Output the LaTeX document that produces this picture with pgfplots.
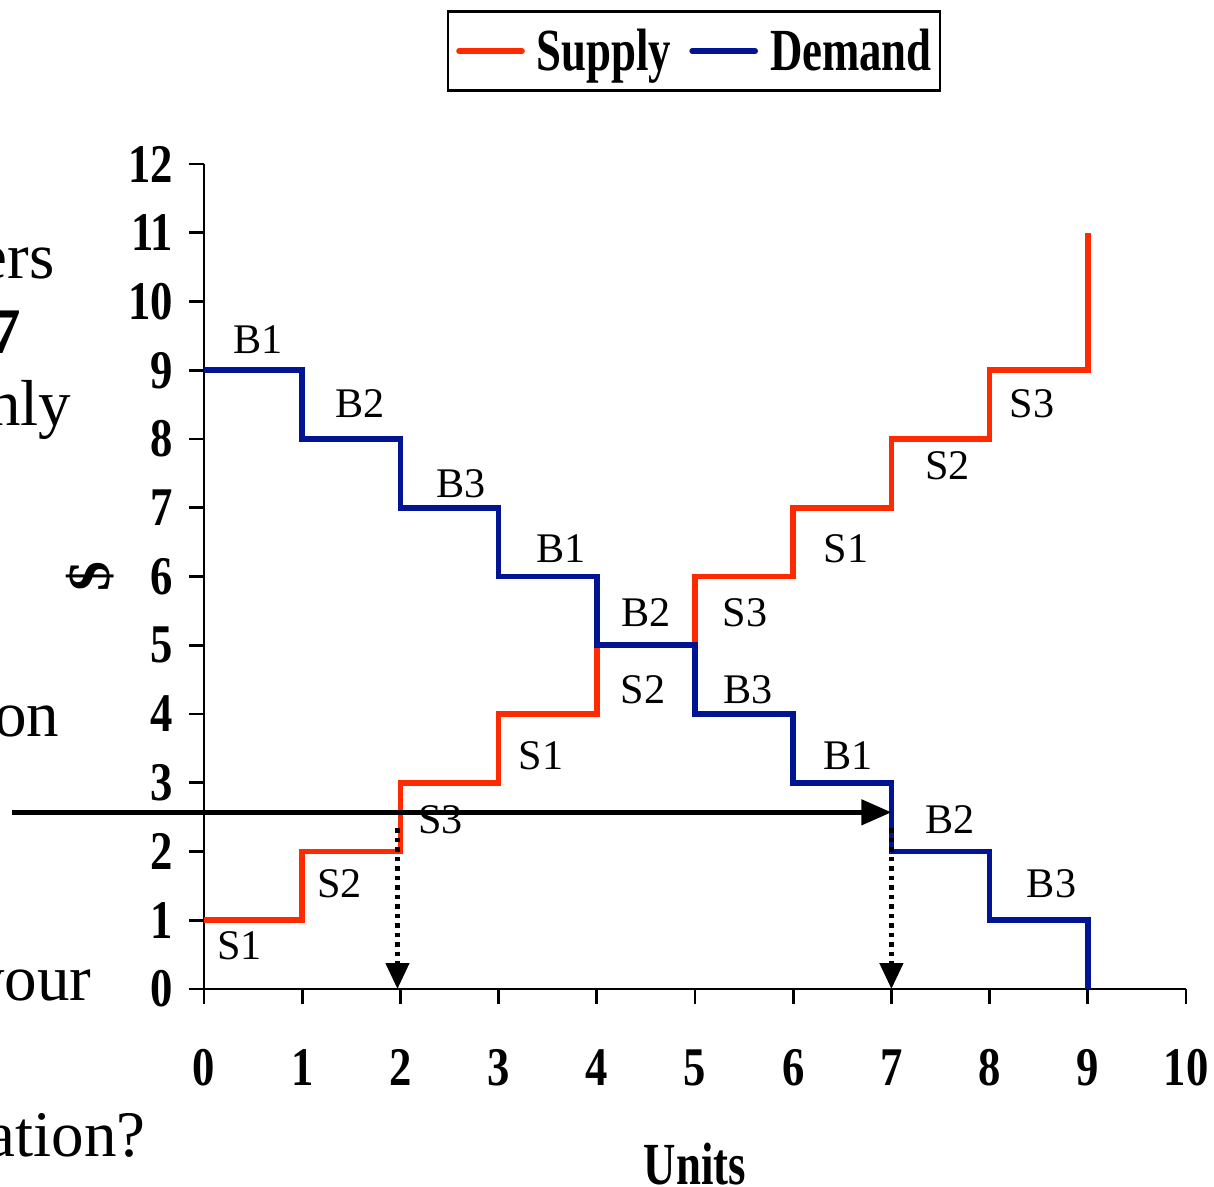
\documentclass[border=0pt]{standalone}
\usepackage{fontspec}
\setmainfont{Liberation Serif}
\usepackage{pgfplots}
\pgfplotsset{compat=1.18}
\usetikzlibrary{arrows.meta}

\definecolor{supplyred}{RGB}{255,42,0}
\definecolor{demandblue}{RGB}{0,20,148}
\newcommand{\narrow}[1]{\scalebox{0.82}[1]{#1}}
\newcommand{\cond}[1]{\scalebox{0.75}[1]{#1}}

\begin{document}
\begin{tikzpicture}
\begin{axis}[
    name=ax,
    scale only axis,
    width=9.82cm, height=8.25cm,
    xmin=0, xmax=10, ymin=0, ymax=12,
    axis lines=left,
    axis line style={-, line width=0.8pt},
    tick style={line width=0.8pt, black},
    tick align=outside,
    major tick length=0.15cm,
    xtick={0,...,10}, ytick={0,...,12},
    /pgf/number format/assume math mode=true,
    ticklabel style={font=\fontsize{15.5}{15.5}\selectfont\bfseries},
    xticklabel={\narrow{\pgfmathprintnumber{\tick}}},
    yticklabel={\narrow{\pgfmathprintnumber{\tick}}},
    xticklabel style={anchor=north, inner sep=0pt, yshift=-0.45cm},
    yticklabel style={anchor=east, inner sep=0pt, xshift=-0.15cm},
    xlabel={\cond{Units}},
    xlabel style={at={(axis description cs:0.5,0)}, anchor=base, yshift=-1.95cm,
                  font=\fontsize{17}{17}\selectfont\bfseries},
    ylabel={\$},
    ylabel style={at={(axis description cs:-0.116,0.5)}, anchor=center,
                  font=\fontsize{17}{17}\selectfont\bfseries},
    legend columns=2,
    legend style={at={(axis description cs:0.499,1.137)}, anchor=center,
                  draw=black, line width=0.6pt,
                  font=\fontsize{17}{17}\selectfont\bfseries,
                  inner xsep=0.08cm, inner ysep=0.12cm,
                  nodes={inner sep=0pt, text height=0.47cm, text depth=0.08cm},
                  /tikz/every even column/.append style={column sep=0.18cm}},
    legend image code/.code={
        \draw[#1, line cap=round] (0cm,0cm) -- (0.63cm,0cm);
        \path (0.75cm,0cm);
    },
    clip=false,
]

\addplot[const plot, supplyred, line width=1.6pt] coordinates {
    (0,1) (1,2) (2,3) (3,4) (4,5) (5,6) (6,7) (7,8) (8,9) (9,9) (9,11)
};
\addlegendentry{\cond{Supply}}

\addplot[const plot, demandblue, line width=1.6pt] coordinates {
    (0,9) (1,8) (2,7) (3,6) (4,5) (5,4) (6,3) (7,2) (8,1) (9,1) (9,0)
};
\addlegendentry{\cond{Demand}}

% step labels
\begin{scope}[every node/.style={font=\fontsize{12}{12}\selectfont, inner sep=0pt}]
\node at (axis cs:0.55,9.44) {B1};
\node at (axis cs:1.59,8.51) {B2};
\node at (axis cs:2.62,7.35) {B3};
\node at (axis cs:3.64,6.41) {B1};
\node at (axis cs:4.50,5.48) {B2};
\node at (axis cs:5.54,4.36) {B3};
\node at (axis cs:6.56,3.39) {B1};
\node at (axis cs:7.60,2.46) {B2};
\node at (axis cs:8.63,1.53) {B3};
\node at (axis cs:0.36,0.63) {S1};
\node at (axis cs:1.38,1.53) {S2};
\node at (axis cs:2.41,2.46) {S3};
\node at (axis cs:3.43,3.39) {S1};
\node at (axis cs:4.47,4.36) {S2};
\node at (axis cs:5.51,5.48) {S3};
\node at (axis cs:6.54,6.41) {S1};
\node at (axis cs:7.57,7.61) {S2};
\node at (axis cs:8.43,8.51) {S3};
\end{scope}

% price line and quantities
\draw[line width=1.3pt, -{Triangle[length=0.3cm,width=0.25cm]}]
    (axis cs:-1.955,2.57) -- (axis cs:7,2.57);
\draw[line width=1.3pt, dash pattern=on 1.3pt off 1.4pt, -{Triangle[length=0.26cm,width=0.23cm]}]
    (axis cs:1.97,2.34) -- (axis cs:1.97,0);
\draw[line width=1.3pt, dash pattern=on 1.3pt off 1.4pt, -{Triangle[length=0.26cm,width=0.23cm]}]
    (axis cs:7,2.34) -- (axis cs:7,0);

% slide text cut off at the left
\begin{scope}[every node/.style={font=\fontsize{18.5}{18.5}\selectfont, inner sep=0pt, anchor=base east}]
\node at (axis cs:-1.517,10.34) {ers};
\node[font=\fontsize{18.5}{18.5}\selectfont\bfseries] at (axis cs:-1.853,9.25) {7};
\node at (axis cs:-1.344,8.20) {nly};
\node at (axis cs:-1.466,3.67) {on};
\node at (axis cs:-1.14,-0.16) {your};
\node at (axis cs:-0.59,-2.44) {ation?};
\end{scope}

\end{axis}
\pgfresetboundingbox
\path[use as bounding box] ([xshift=-2.04cm,yshift=-1.97cm]ax.south west)
    rectangle ([xshift=0.28cm,yshift=1.64cm]ax.north east);
\end{tikzpicture}
\end{document}
